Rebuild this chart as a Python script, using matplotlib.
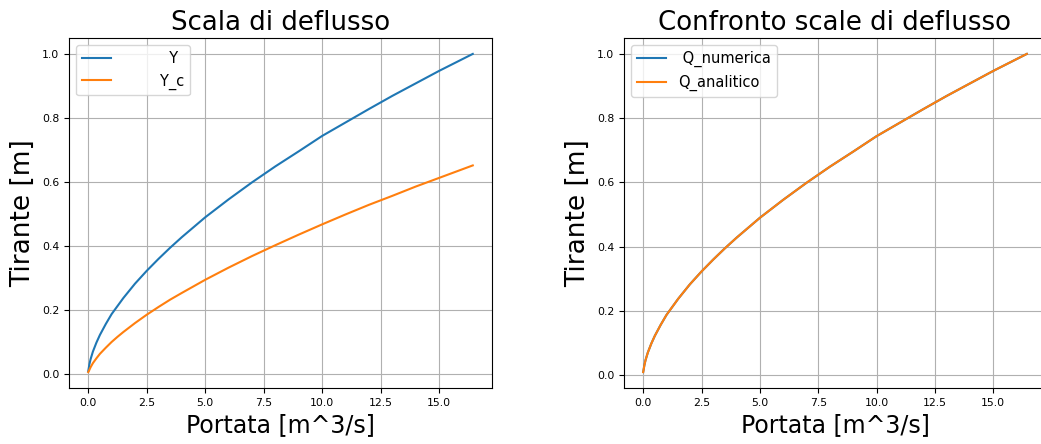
import matplotlib
matplotlib.use("Agg")
import matplotlib.pyplot as plt

# Portata (m^3/s)
Q = [0.0, 0.02, 0.05, 0.1, 0.2, 0.35, 0.5, 0.75, 1.0, 1.25, 1.5, 2.0, 2.5,
     3.0, 3.5, 4.0, 5.0, 6.0, 7.0, 8.0, 9.0, 10.0, 11.0, 12.0, 13.0, 14.0,
     15.0, 16.44]
# tirante di moto uniforme
Y = [0.01, 0.018, 0.031, 0.047, 0.071, 0.099, 0.123, 0.157, 0.188, 0.213,
     0.238, 0.283, 0.323, 0.36, 0.395, 0.428, 0.49, 0.546, 0.599, 0.649,
     0.696, 0.744, 0.786, 0.828, 0.869, 0.908, 0.947, 1.0]
# tirante critico
Y_c = [0.007, 0.009, 0.014, 0.022, 0.035, 0.05, 0.064, 0.083, 0.101, 0.117,
       0.132, 0.16, 0.186, 0.21, 0.233, 0.254, 0.295, 0.333, 0.369, 0.403,
       0.436, 0.468, 0.499, 0.529, 0.557, 0.586, 0.613, 0.652]
# confronto: numerica vs analitica (coincidono)
Q_numerica = Q
Q_analitico = Q
Y_conf = Y

W, H = 1041, 444
fig = plt.figure(figsize=(W / 100, H / 100), dpi=100)

tick_fs = 7.8
xlabel_fs = 17
ylabel_fs = 19
title_fs = 18.7
leg_fs = 10.5

ax1 = fig.add_axes([69 / W, 56 / H, 423 / W, 350 / H])
ax1.plot(Q, Y, linewidth=1.5, label="%11s" % "Y")
ax1.plot(Q, Y_c, linewidth=1.5, label="%11s" % "Y_c")
ax1.set_title("Scala di deflusso", fontsize=title_fs)
ax1.set_xlabel("Portata [m^3/s]", fontsize=xlabel_fs)
ax1.set_ylabel("Tirante [m]", fontsize=ylabel_fs)
ax1.legend(loc="upper left", fontsize=leg_fs)
ax1.grid(True)

ax2 = fig.add_axes([624 / W, 56 / H, 422 / W, 350 / H])
ax2.plot(Q_numerica, Y_conf, linewidth=1.5, label="%11s" % "Q_numerica")
ax2.plot(Q_analitico, Y_conf, linewidth=1.5, label="%11s" % "Q_analitico")
ax2.set_title("Confronto scale di deflusso", fontsize=title_fs)
ax2.set_xlabel("Portata [m^3/s]", fontsize=xlabel_fs)
ax2.set_ylabel("Tirante [m]", fontsize=ylabel_fs)
ax2.legend(loc="upper left", fontsize=leg_fs)
ax2.grid(True)

for ax in (ax1, ax2):
    ax.tick_params(labelsize=tick_fs)

fig.savefig("out.png", dpi=100)
